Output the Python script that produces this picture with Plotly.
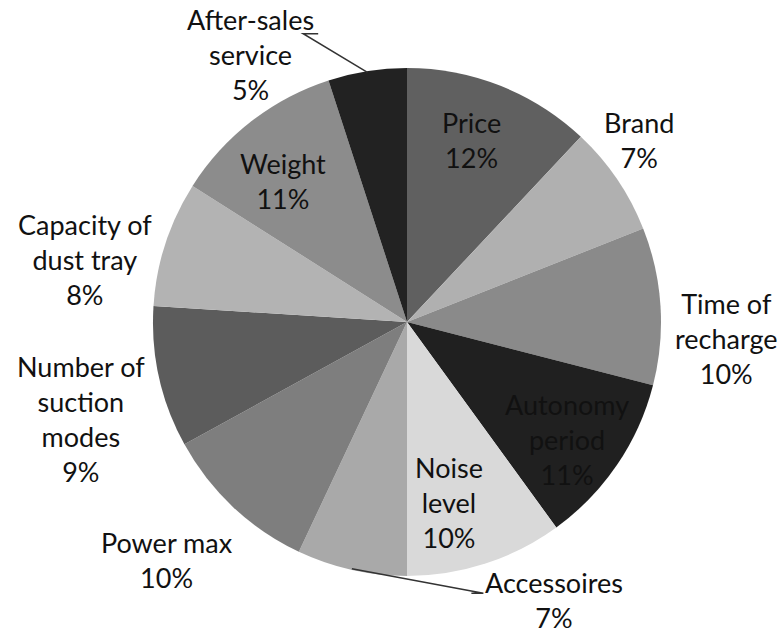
import math
import plotly.graph_objects as go

# ---- data ----
categories = ["Price", "Brand", "Time of recharge", "Autonomy period", "Noise level",
              "Accessoires", "Power max", "Number of suction modes",
              "Capacity of dust tray", "Weight", "After-sales service"]
label_text = ["Price", "Brand", "Time of<br>recharge", "Autonomy<br>period", "Noise<br>level",
              "Accessoires", "Power max", "Number of<br>suction<br>modes",
              "Capacity of<br>dust tray", "Weight", "After-sales<br>service"]
shares = [12, 7, 10, 11, 10, 7, 10, 9, 8, 11, 5]

# ---- style ----
colors = ["#606060", "#b0b0b0", "#8a8a8a", "#202020", "#d9d9d9",
          "#a9a9a9", "#7e7e7e", "#5c5c5c", "#b3b3b3", "#8c8c8c", "#222222"]
# label placement: radius factor and angular offset (deg) relative to slice mid angle
label_rf = [0.76, 1.16, 1.26, 0.78, 0.73, 1.24, 1.33, 1.34, 1.29, 0.74, 1.22]
label_da = [-2.0, -4.0, 6.5, 2.0, 5.0, -40.5, 2.0, -4.0, -7.0, -3.5, -21.4]
leader = {5: [(-71, -7), (-83, -7)], 10: [(53, -21), (68, -21)]}  # offsets from label centre (px)

W, H = 779, 634
CX, CY, R = 407, 322, 254
FONT = "Lato"

fig = go.Figure(go.Pie(
    labels=categories, values=shares, sort=False, direction="clockwise", rotation=0,
    marker=dict(colors=colors, line=dict(width=0)),
    textinfo="none", hoverinfo="label+percent", showlegend=False,
    domain=dict(x=[(CX - R) / W, (CX + R) / W], y=[(H - CY - R) / H, (H - CY + R) / H]),
))

def px2paper(x, y):
    return x / W, 1 - y / H

total = sum(shares)
cum = 0
annotations, shapes = [], []
for i, v in enumerate(shares):
    mid = (cum + v / 2) / total * 360
    cum += v
    ang = math.radians(mid + label_da[i])
    lx = CX + R * label_rf[i] * math.sin(ang)
    ly = CY - R * label_rf[i] * math.cos(ang)
    pct = round(v / total * 100)
    px_, py_ = px2paper(lx, ly)
    annotations.append(dict(
        x=px_, y=py_, xref="paper", yref="paper", showarrow=False,
        text=f"{label_text[i]}<br>{pct}%", align="center",
        xanchor="center", yanchor="middle",
        font=dict(family=FONT, size=27, color="#111111"),
    ))
    if i in leader:
        m = math.radians(mid)
        ex, ey = CX + R * 0.995 * math.sin(m), CY - R * 0.995 * math.cos(m)
        pts = [(ex, ey)] + [(lx + dx, ly + dy) for dx, dy in leader[i]]
        path = "M " + " L ".join(f"{px2paper(a, b)[0]},{px2paper(a, b)[1]}" for a, b in pts)
        shapes.append(dict(type="path", path=path, xref="paper", yref="paper",
                           line=dict(color="#333333", width=1.5)))

fig.update_layout(
    width=W, height=H, margin=dict(l=0, r=0, t=0, b=0),
    paper_bgcolor="white", plot_bgcolor="white",
    annotations=annotations, shapes=shapes,
)
fig.write_html("out.html", config={"displayModeBar": False},
               post_script="document.body.style.margin='0';document.body.style.overflow='hidden';")
